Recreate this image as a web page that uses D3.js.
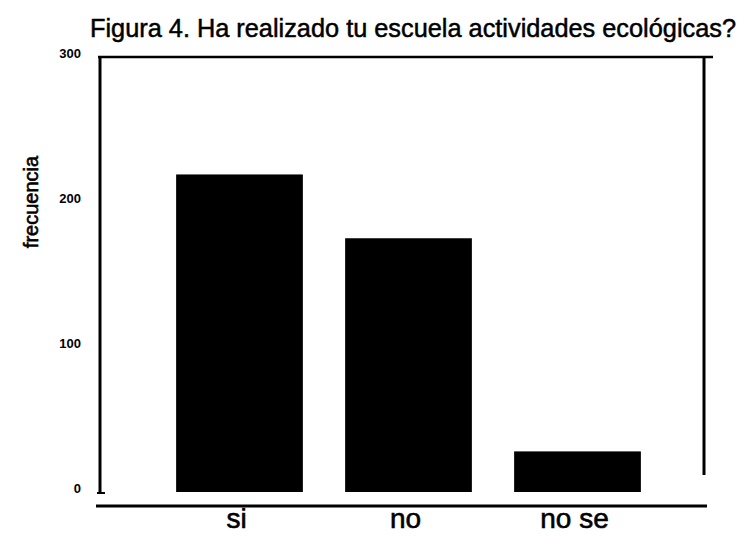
<!DOCTYPE html>
<html>
<head>
<meta charset="utf-8">
<script src="https://cdnjs.cloudflare.com/ajax/libs/d3/7.8.5/d3.min.js"></script>
<style>
  body { margin: 0; background: #fff; }
  text { font-family: "Liberation Sans", Arial, sans-serif; fill: #000; }
</style>
</head>
<body>
<div id="chart"></div>
<script>
// Data
var categories = ["si", "no", "no se"];
var frequencies = [219, 175, 28];
var yTicks = [0, 100, 200, 300];

var titleText = "Figura 4. Ha realizado tu escuela actividades ecológicas?";
var yLabelText = "frecuencia";

// SVG area
var svgWidth = 746;
var svgHeight = 537;

var svg = d3.select("#chart")
    .append("svg")
    .attr("width", svgWidth)
    .attr("height", svgHeight);

// Scales
var yScale = d3.scaleLinear()
    .domain([0, 300])
    .range([492, 57]);

var xScale = d3.scaleBand()
    .domain(categories)
    .range([155, 662])
    .paddingInner(0.25)
    .paddingOuter(0.125);

// Title (scanned look: slightly heavy, condensed)
svg.append("text")
    .attr("x", 90)
    .attr("y", 37)
    .attr("font-size", 25)
    .attr("textLength", 646)
    .attr("lengthAdjust", "spacingAndGlyphs")
    .attr("stroke", "#000")
    .attr("stroke-width", 0.5)
    .text(titleText);

// Frame lines (left axis, top, right, bottom)
var frame = svg.append("g")
    .attr("stroke", "#000")
    .attr("fill", "none");

frame.append("line")
    .attr("x1", 100).attr("x2", 100)
    .attr("y1", yScale(300)).attr("y2", yScale(0) + 1)
    .attr("stroke-width", 3);

frame.append("line")
    .attr("x1", 97).attr("x2", 105)
    .attr("y1", yScale(0) + 1).attr("y2", yScale(0) + 1)
    .attr("stroke-width", 2);

frame.append("line")
    .attr("x1", 98).attr("x2", 713)
    .attr("y1", yScale(300)).attr("y2", yScale(300))
    .attr("stroke-width", 2.5);

frame.append("line")
    .attr("x1", 704).attr("x2", 704)
    .attr("y1", yScale(300)).attr("y2", 475)
    .attr("stroke-width", 3);

frame.append("line")
    .attr("x1", 96).attr("x2", 707)
    .attr("y1", 506).attr("y2", 506)
    .attr("stroke-width", 3);

// Y axis tick labels
var leftAxis = d3.axisLeft(yScale)
    .tickValues(yTicks)
    .tickSize(0)
    .tickPadding(0)
    .tickFormat(d3.format("d"));

var yAxisGroup = svg.append("g")
    .attr("transform", "translate(81, -4)")
    .call(leftAxis);

yAxisGroup.select(".domain").remove();
yAxisGroup.selectAll("text")
    .attr("font-family", "\"Liberation Sans\", Arial, sans-serif")
    .attr("font-size", 13)
    .attr("font-weight", "bold")
    .attr("fill", "#000");

// Y axis label
svg.append("text")
    .attr("transform", "translate(38, 202) rotate(-90)")
    .attr("text-anchor", "middle")
    .attr("font-size", 20)
    .attr("stroke", "#000")
    .attr("stroke-width", 0.6)
    .text(yLabelText);

// Bars
svg.selectAll(".bar")
    .data(frequencies)
    .enter()
    .append("rect")
    .attr("class", "bar")
    .attr("x", function (d, i) { return xScale(categories[i]); })
    .attr("y", function (d) { return yScale(d); })
    .attr("width", xScale.bandwidth())
    .attr("height", function (d) { return yScale(0) - yScale(d); })
    .attr("fill", "#000");

// X axis category labels
var bottomAxis = d3.axisBottom(xScale)
    .tickSize(0)
    .tickPadding(0);

var xAxisGroup = svg.append("g")
    .attr("transform", "translate(-3, 508)")
    .call(bottomAxis);

xAxisGroup.select(".domain").remove();
xAxisGroup.selectAll("text")
    .attr("font-family", "\"Liberation Sans\", Arial, sans-serif")
    .attr("font-size", 28)
    .attr("fill", "#000")
    .attr("stroke", "#000")
    .attr("stroke-width", 0.6)
    .attr("dy", "0.71em");
</script>
</body>
</html>
